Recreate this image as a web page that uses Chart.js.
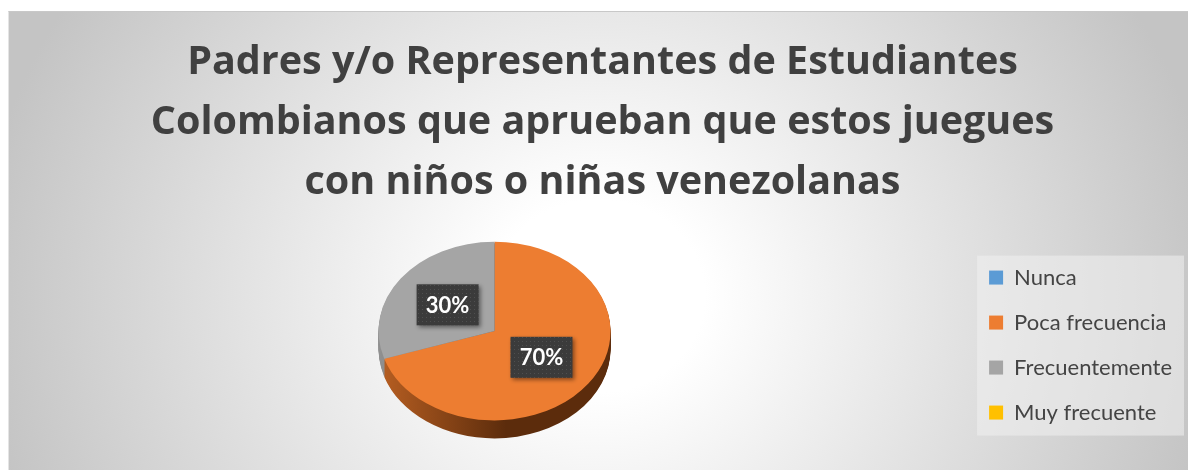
<!DOCTYPE html>
<html lang="es">
<head>
<meta charset="utf-8">
<title>Padres y/o Representantes</title>
<script src="https://cdn.jsdelivr.net/npm/chart.js@4.4.1/dist/chart.umd.min.js"></script>
<style>
  html, body { margin: 0; padding: 0; background: #ffffff; }
  .chart-box {
    position: absolute;
    left: 8px;
    top: 11px;
    width: 1180px;
    height: 459px;
    border-top: 1px solid #c8c8c8;
    border-left: 1px solid #e4e4e4;
    box-sizing: border-box;
    background: radial-gradient(ellipse 60% 140% at 50% 62%, #ffffff 15%, #c4c4c4 88%);
  }
  .chart-box canvas { display: block; }
</style>
</head>
<body>
<div class="chart-box">
  <canvas id="pie-chart" width="1179" height="458"></canvas>
</div>
<script>
// ---- data ----
const titleLines = [
  'Padres y/o Representantes de Estudiantes',
  'Colombianos que aprueban que estos juegues',
  'con niños o niñas venezolanas'
];
const categories = ['Nunca', 'Poca frecuencia', 'Frecuentemente', 'Muy frecuente'];
const percentages = [0, 70, 30, 0];
const sliceColors = ['#5b9bd5', '#ed7d31', '#a5a5a5', '#ffc000'];
const sideColors = [
  ['#3f73a3', '#24466a'],
  ['#b85f22', '#5c2c0c'],
  ['#909090', '#5e5e5e'],
  ['#c99600', '#7a5b00']
];

const TILT = 0.77;   // vertical squash of the pie top
const DEPTH = 18;    // thickness of the 3D rim
const LIFT = 14;     // how far the top face sits above the chart area centre

// tiny dotted pattern for the label boxes
function makeDots() {
  const c = document.createElement('canvas');
  c.width = 4; c.height = 4;
  const g = c.getContext('2d');
  g.fillStyle = '#3b3b3b';
  g.fillRect(0, 0, 4, 4);
  g.fillStyle = '#4f4f4f';
  g.fillRect(1, 1, 1, 1);
  return c;
}

function tiltAround(ctx, cx, cy) {
  ctx.translate(cx, cy);
  ctx.scale(1, TILT);
  ctx.translate(-cx, -cy);
}

// draws the rim under the pie and squashes the pie into an ellipse
const pie3d = {
  id: 'pie3d',
  beforeDatasetsDraw(chart) {
    const ctx = chart.ctx;
    const arcs = chart.getDatasetMeta(0).data;
    if (!arcs.length) return;
    const cx = arcs[0].x;
    const cy = arcs[0].y - LIFT;
    const r = arcs[0].outerRadius;

    ctx.save();
    for (let d = DEPTH; d >= 1; d--) {
      ctx.save();
      ctx.translate(0, d);
      tiltAround(ctx, cx, cy);
      arcs.forEach((arc, i) => {
        if (arc.endAngle - arc.startAngle <= 0) return;
        const grad = ctx.createLinearGradient(cx - r, 0, cx + r, 0);
        grad.addColorStop(0, sideColors[i][0]);
        grad.addColorStop(0.55, sideColors[i][1]);
        grad.addColorStop(1, sideColors[i][1]);
        ctx.beginPath();
        ctx.moveTo(cx, cy);
        ctx.arc(cx, cy, r, arc.startAngle, arc.endAngle);
        ctx.closePath();
        ctx.fillStyle = grad;
        ctx.fill();
      });
      ctx.restore();
    }
    ctx.restore();

    ctx.save();
    ctx.translate(0, -LIFT);
    tiltAround(ctx, cx, arcs[0].y);
  },
  afterDatasetsDraw(chart) {
    const ctx = chart.ctx;
    ctx.restore();

    // percentage labels
    const arcs = chart.getDatasetMeta(0).data;
    const dots = ctx.createPattern(makeDots(), 'repeat');
    arcs.forEach((arc, i) => {
      if (!percentages[i]) return;
      const p = arc.tooltipPosition();
      const x = p.x;
      const y = arc.y - LIFT + (p.y - arc.y) * TILT;
      const w = 62, h = 41;
      ctx.save();
      ctx.shadowColor = 'rgba(0,0,0,0.45)';
      ctx.shadowBlur = 4;
      ctx.shadowOffsetX = 2;
      ctx.shadowOffsetY = 2;
      ctx.fillStyle = dots;
      ctx.fillRect(x - w / 2, y - h / 2, w, h);
      ctx.restore();
      ctx.save();
      ctx.font = 'bold 22px Lato';
      ctx.fillStyle = '#ffffff';
      ctx.textAlign = 'center';
      ctx.textBaseline = 'middle';
      ctx.fillText(percentages[i] + '%', x, y + 1);
      ctx.restore();
    });
  }
};

// light panel behind the legend
const legendPanel = {
  id: 'legendPanel',
  beforeDraw(chart) {
    const boxes = chart.legend && chart.legend.legendHitBoxes;
    if (!boxes || !boxes.length) return;
    const left = Math.min(...boxes.map(b => b.left)) - 12;
    const top = Math.min(...boxes.map(b => b.top)) - 11;
    const right = Math.max(...boxes.map(b => b.left + b.width)) + 12;
    const bottom = Math.max(...boxes.map(b => b.top + b.height)) + 12;
    const ctx = chart.ctx;
    ctx.save();
    ctx.fillStyle = 'rgba(240,240,240,0.55)';
    ctx.fillRect(left, top, right - left, bottom - top);
    ctx.restore();
  }
};

new Chart(document.getElementById('pie-chart'), {
  type: 'pie',
  data: {
    labels: categories,
    datasets: [{
      data: percentages,
      backgroundColor: sliceColors,
      borderWidth: 0,
      radius: 116
    }]
  },
  options: {
    responsive: false,
    animation: false,
    layout: { padding: { left: 14, right: 6, top: 0, bottom: 0 } },
    plugins: {
      title: {
        display: true,
        text: titleLines,
        color: '#404040',
        font: { family: 'Open Sans', size: 39.5, weight: 'bold', lineHeight: 1.52 },
        padding: { top: 21, bottom: 7 }
      },
      legend: {
        position: 'right',
        fullSize: false,
        labels: {
          boxWidth: 14,
          boxHeight: 14,
          padding: 23,
          color: '#444444',
          font: { family: 'Lato', size: 22 }
        }
      },
      tooltip: { enabled: false }
    }
  },
  plugins: [legendPanel, pie3d]
});
</script>
</body>
</html>
